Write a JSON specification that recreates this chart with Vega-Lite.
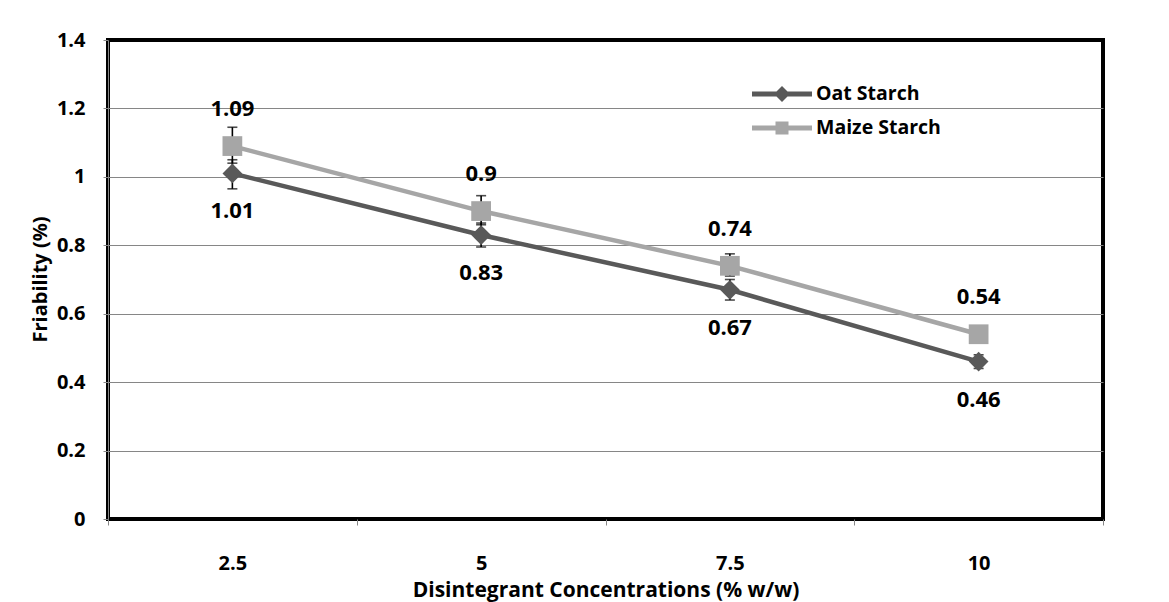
{
  "$schema": "https://vega.github.io/schema/vega-lite/v6.json",
  "width": 995,
  "height": 479,
  "autosize": "none",
  "padding": {"left": 108, "top": 40, "right": 66, "bottom": 83},
  "background": "white",
  "config": {
    "view": {"stroke": "black", "strokeWidth": 4},
    "font": "Open Sans"
  },
  "data": {
    "values": [
      {"conc": "2.5", "series": "Oat Starch", "value": 1.01, "lo": 0.965, "hi": 1.05},
      {"conc": "5", "series": "Oat Starch", "value": 0.83, "lo": 0.795, "hi": 0.865},
      {"conc": "7.5", "series": "Oat Starch", "value": 0.67, "lo": 0.64, "hi": 0.70},
      {"conc": "10", "series": "Oat Starch", "value": 0.46, "lo": 0.44, "hi": 0.48},
      {"conc": "2.5", "series": "Maize Starch", "value": 1.09, "lo": 1.04, "hi": 1.145},
      {"conc": "5", "series": "Maize Starch", "value": 0.90, "lo": 0.86, "hi": 0.945},
      {"conc": "7.5", "series": "Maize Starch", "value": 0.74, "lo": 0.71, "hi": 0.775},
      {"conc": "10", "series": "Maize Starch", "value": 0.54, "lo": 0.525, "hi": 0.56}
    ]
  },
  "encoding": {
    "x": {
      "field": "conc",
      "type": "nominal",
      "sort": ["2.5", "5", "7.5", "10"],
      "scale": {"type": "band", "paddingInner": 0, "paddingOuter": 0},
      "bandPosition": 0.5,
      "axis": {
        "title": "Disintegrant Concentrations (% w/w)",
        "tickBand": "extent",
        "labelAngle": 0,
        "domain": false,
        "grid": false,
        "ticks": true,
        "tickColor": "#868686",
        "tickSize": 6,
        "labelFont": "Open Sans",
        "labelFontSize": 20,
        "labelFontWeight": "bold",
        "labelColor": "black",
        "labelBaseline": "middle",
        "labelPadding": 38,
        "titleFont": "Open Sans",
        "titleFontSize": 21,
        "titleFontWeight": "bold",
        "titleColor": "black",
        "titleBaseline": "alphabetic",
        "titleY": 77
      }
    }
  },
  "layer": [
    {
      "mark": {
        "type": "errorbar",
        "ticks": {"size": 10, "thickness": 1.6, "color": "black"},
        "rule": {"strokeWidth": 1.6, "color": "black"}
      },
      "encoding": {
        "y": {"field": "lo", "type": "quantitative", "scale": {"domain": [0, 1.4]}, "title": "Friability (%)"},
        "y2": {"field": "hi"},
        "detail": {"field": "series"}
      }
    },
    {
      "mark": {"type": "line", "strokeWidth": 4.5},
      "encoding": {
        "y": {
          "field": "value",
          "type": "quantitative",
          "scale": {"domain": [0, 1.4]},
          "title": "Friability (%)",
          "axis": {
            "values": [0, 0.2, 0.4, 0.6, 0.8, 1, 1.2, 1.4],
            "format": "~g",
            "grid": true,
            "gridColor": {"condition": {"test": "datum.value === 0 || datum.value === 1.4", "value": "black"}, "value": "#868686"},
            "gridWidth": 1,
            "domain": true,
            "domainColor": "#868686",
            "tickColor": "#868686",
            "tickSize": 5,
            "labelFont": "Open Sans",
            "labelFontSize": 20,
            "labelFontWeight": "bold",
            "labelColor": "black",
            "labelPadding": 18,
            "titleFont": "Open Sans",
            "titleFontSize": 20,
            "titleFontWeight": "bold",
            "titleColor": "black",
            "titleX": -68,
            "titleY": 239,
            "titleAngle": -90,
            "titleAlign": "center",
            "titleBaseline": "middle"
          }
        },
        "color": {
          "field": "series",
          "type": "nominal",
          "scale": {"domain": ["Oat Starch", "Maize Starch"], "range": ["#595959", "#A6A6A6"]},
          "legend": {
            "orient": "none",
            "legendX": 664,
            "legendY": 44,
            "title": null,
            "symbolSize": 400,
            "labelOffset": 24,
            "rowPadding": 14,
            "labelFont": "Open Sans",
            "labelFontSize": 19.5,
            "labelFontWeight": "bold",
            "labelColor": "black",
            "encode": {
              "symbols": {
                "update": {
                  "shape": {"signal": "datum.value === 'Oat Starch' ? 'M-3,-0.24L3,-0.24L3,0.24L-3,0.24Z M0,-0.8L0.8,0L0,0.8L-0.8,0Z' : 'M-3,-0.24L3,-0.24L3,0.24L-3,0.24Z M-0.65,-0.65L0.65,-0.65L0.65,0.65L-0.65,0.65Z'"},
                  "fill": {"signal": "datum.value === 'Oat Starch' ? '#595959' : '#A6A6A6'"},
                  "fillOpacity": {"value": 1},
                  "opacity": {"value": 1},
                  "strokeWidth": {"value": 0}
                }
              }
            }
          }
        }
      }
    },
    {
      "transform": [{"filter": "datum.series === 'Oat Starch'"}],
      "mark": {"type": "point", "filled": true, "size": 390, "opacity": 1, "shape": "diamond"},
      "encoding": {
        "y": {"field": "value", "type": "quantitative", "title": "Friability (%)"},
        "color": {"field": "series", "type": "nominal", "legend": null}
      }
    },
    {
      "transform": [{"filter": "datum.series === 'Maize Starch'"}],
      "mark": {"type": "point", "filled": true, "size": 390, "opacity": 1, "shape": "square"},
      "encoding": {
        "y": {"field": "value", "type": "quantitative", "title": "Friability (%)"},
        "color": {"field": "series", "type": "nominal", "legend": null}
      }
    },
    {
      "transform": [{"filter": "datum.series === 'Maize Starch'"}],
      "mark": {"type": "text", "dy": -37, "font": "Open Sans", "fontSize": 22, "fontWeight": "bold", "color": "black"},
      "encoding": {
        "y": {"field": "value", "type": "quantitative", "title": "Friability (%)"},
        "text": {"field": "value", "type": "quantitative", "format": ".2~f"}
      }
    },
    {
      "transform": [{"filter": "datum.series === 'Oat Starch'"}],
      "mark": {"type": "text", "dy": 38, "font": "Open Sans", "fontSize": 22, "fontWeight": "bold", "color": "black"},
      "encoding": {
        "y": {"field": "value", "type": "quantitative", "title": "Friability (%)"},
        "text": {"field": "value", "type": "quantitative", "format": ".2~f"}
      }
    }
  ]
}
